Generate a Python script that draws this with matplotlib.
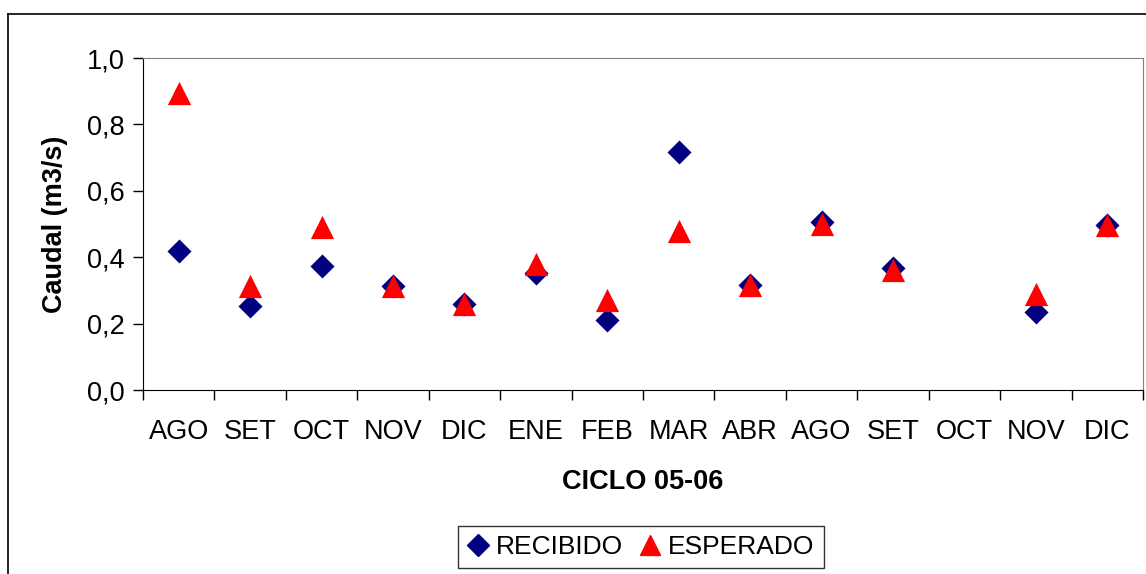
import numpy as np
import matplotlib.pyplot as plt
from matplotlib.lines import Line2D

# datos ciclo 05-06
meses = ["AGO", "SET", "OCT", "NOV", "DIC", "ENE", "FEB", "MAR", "ABR",
         "AGO", "SET", "OCT", "NOV", "DIC"]
recibido = [0.42, 0.253, 0.373, 0.313, 0.259, 0.352, 0.211, 0.717, 0.316,
            0.506, 0.367, np.nan, 0.235, 0.497]
esperado = [0.895, 0.312, 0.492, 0.312, 0.258, 0.38, 0.271, 0.479, 0.315,
            0.50, 0.36, np.nan, 0.29, 0.497]

plt.rcParams['font.family'] = ['Liberation Sans', 'DejaVu Sans']

W, H = 1146, 574
fig = plt.figure(figsize=(W/100, H/100), dpi=100)
ax = fig.add_axes([143/W, 1-390/H, 1000/W, 332/H])

x = np.arange(len(meses))
ax.scatter(x, recibido, marker='D', s=150, color='#000080', linewidths=0, label='RECIBIDO', zorder=3)
ax.scatter(x, esperado, marker='^', s=280, color='#ff0000', linewidths=0, label='ESPERADO', zorder=4)

ax.set_xlim(-0.5, len(meses)-0.5)
ax.set_ylim(0, 1.0)
ax.set_yticks(np.arange(0, 1.01, 0.2))
ax.set_yticklabels([f"{v:.1f}".replace('.', ',') for v in np.arange(0, 1.01, 0.2)])
ax.set_xticks(np.arange(-0.5, len(meses), 1.0))
ax.set_xticklabels([])
ax.set_xticks(x, minor=True)
ax.set_xticklabels(meses, minor=True)
ax.tick_params(axis='x', which='major', length=7, width=1, direction='out')
ax.tick_params(axis='x', which='minor', length=0, pad=21, labelsize=19.5)
ax.tick_params(axis='y', length=7, width=1, direction='out', pad=6, labelsize=19.5)

for s in ['top', 'right']:
    ax.spines[s].set_color('#808080')
ax.spines['left'].set_color('black')
ax.spines['bottom'].set_color('black')

ax.set_ylabel("Caudal (m3/s)", fontsize=19.5, fontweight='bold', labelpad=14)
ax.set_xlabel("CICLO 05-06", fontsize=19.5, fontweight='bold', labelpad=17)

handles = [Line2D([], [], marker='D', ls='', color='#000080', markersize=11, label='RECIBIDO'),
           Line2D([], [], marker='^', ls='', color='#ff0000', markersize=15, label='ESPERADO')]
leg = fig.legend(handles=handles, loc='upper center', bbox_to_anchor=(641/W, 1-526/H),
                 ncol=2, fontsize=19, frameon=True, fancybox=False, edgecolor='black',
                 handlelength=0.8, handletextpad=0.3, columnspacing=0.6, borderpad=0.35,
                 borderaxespad=0)
leg.get_frame().set_linewidth(1.0)

# marco exterior del grafico
fig.add_artist(Line2D([8/W, 1.0], [1-14/H, 1-14/H], color='black', lw=1.2))
fig.add_artist(Line2D([8/W, 8/W], [0, 1-14/H], color='black', lw=1.2))

fig.savefig("out.png", dpi=100)
